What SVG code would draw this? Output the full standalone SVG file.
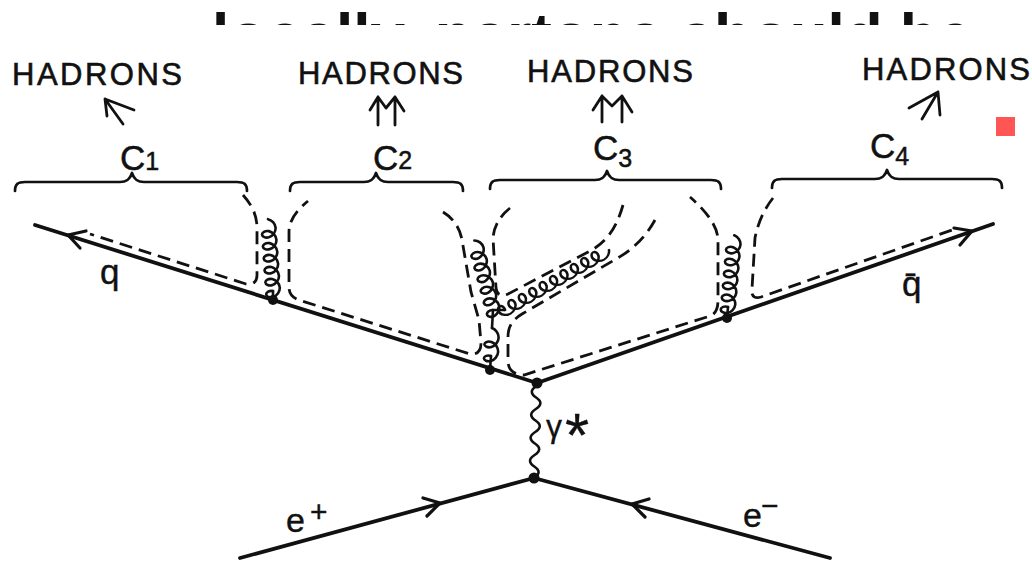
<svg xmlns="http://www.w3.org/2000/svg" xmlns:xlink="http://www.w3.org/1999/xlink" width="1032" height="563" viewBox="0 0 1032 563">
<style>
.ln{fill:none;stroke:#111;stroke-width:3.8;stroke-linecap:round;stroke-linejoin:round}
.ah{fill:none;stroke:#111;stroke-width:3.2;stroke-linecap:round;stroke-linejoin:round}
.dash{fill:none;stroke:#111;stroke-width:2.8;stroke-dasharray:13 7}
.gl{fill:none;stroke:#111;stroke-width:2.6;stroke-linecap:round}
.br{fill:none;stroke:#111;stroke-width:2.7;stroke-linecap:round;stroke-linejoin:round}
.ha{fill:none;stroke:#111;stroke-width:2.8;stroke-linecap:round;stroke-linejoin:round}
.dot{fill:#111}
.t{font-family:"Liberation Sans",Arial,sans-serif;fill:#111}
.had{font-size:31px;stroke:#111;stroke-width:0.6}
.cl{font-size:35px;stroke:#111;stroke-width:0.5}
.sub{font-size:25px}
</style>
<defs>
<clipPath id="clipTop"><rect x="0" y="0" width="1032" height="25"/></clipPath>
<path id="g12x6" d="M0,0 c1,-3.67 -0.86,-7 -3,-7 c-2.14,0 -4,3.33 -3,7 c1,3.67 4.86,7 9,7 c4.14,0 8,-3.33 9,-7 c1,-3.67 -0.86,-7 -3,-7 c-2.14,0 -4,3.33 -3,7 c1,3.67 4.86,7 9,7 c4.14,0 8,-3.33 9,-7 c1,-3.67 -0.86,-7 -3,-7 c-2.14,0 -4,3.33 -3,7 c1,3.67 4.86,7 9,7 c4.14,0 8,-3.33 9,-7 c1,-3.67 -0.86,-7 -3,-7 c-2.14,0 -4,3.33 -3,7 c1,3.67 4.86,7 9,7 c4.14,0 8,-3.33 9,-7 c1,-3.67 -0.86,-7 -3,-7 c-2.14,0 -4,3.33 -3,7 c1,3.67 4.86,7 9,7 c4.14,0 8,-3.33 9,-7 c1,-3.67 -0.86,-7 -3,-7 c-2.14,0 -4,3.33 -3,7 c1,3.67 4.86,7 9,7 c4.14,0 8,-3.33 9,-7"/>
<path id="g12x10" d="M0,0 c1,-3.67 -0.86,-7 -3,-7 c-2.14,0 -4,3.33 -3,7 c1,3.67 4.86,7 9,7 c4.14,0 8,-3.33 9,-7 c1,-3.67 -0.86,-7 -3,-7 c-2.14,0 -4,3.33 -3,7 c1,3.67 4.86,7 9,7 c4.14,0 8,-3.33 9,-7 c1,-3.67 -0.86,-7 -3,-7 c-2.14,0 -4,3.33 -3,7 c1,3.67 4.86,7 9,7 c4.14,0 8,-3.33 9,-7 c1,-3.67 -0.86,-7 -3,-7 c-2.14,0 -4,3.33 -3,7 c1,3.67 4.86,7 9,7 c4.14,0 8,-3.33 9,-7 c1,-3.67 -0.86,-7 -3,-7 c-2.14,0 -4,3.33 -3,7 c1,3.67 4.86,7 9,7 c4.14,0 8,-3.33 9,-7 c1,-3.67 -0.86,-7 -3,-7 c-2.14,0 -4,3.33 -3,7 c1,3.67 4.86,7 9,7 c4.14,0 8,-3.33 9,-7 c1,-3.67 -0.86,-7 -3,-7 c-2.14,0 -4,3.33 -3,7 c1,3.67 4.86,7 9,7 c4.14,0 8,-3.33 9,-7 c1,-3.67 -0.86,-7 -3,-7 c-2.14,0 -4,3.33 -3,7 c1,3.67 4.86,7 9,7 c4.14,0 8,-3.33 9,-7 c1,-3.67 -0.86,-7 -3,-7 c-2.14,0 -4,3.33 -3,7 c1,3.67 4.86,7 9,7 c4.14,0 8,-3.33 9,-7 c1,-3.67 -0.86,-7 -3,-7 c-2.14,0 -4,3.33 -3,7 c1,3.67 4.86,7 9,7 c4.14,0 8,-3.33 9,-7"/>
<path id="g14x2" d="M0,0 c1.17,-3.67 -0.53,-7 -2.5,-7 c-1.97,0 -3.67,3.33 -2.5,7 c1.17,3.67 5.19,7 9.5,7 c4.31,0 8.33,-3.33 9.5,-7 c1.17,-3.67 -0.53,-7 -2.5,-7 c-1.97,0 -3.67,3.33 -2.5,7 c1.17,3.67 5.19,7 9.5,7 c4.31,0 8.33,-3.33 9.5,-7"/>
</defs>
<rect width="1032" height="563" fill="#fff"/>

<g id="heading" clip-path="url(#clipTop)">
<text class="t" x="212" y="56" font-size="62" font-weight="bold">locally, partons should be</text>
</g>

<g id="cluster-C1">
<text class="t had" x="12" y="85" textLength="170" lengthAdjust="spacing">HADRONS</text>
<path class="ha" d="M105,99 L134,110 M105,99 L107,116 M105,99 L123,124"/>
<text class="t cl" x="120" y="170">C<tspan class="sub" dy="0">1</tspan></text>
<path class="br" d="M15,191 C15,184 18,182 25,182 L120,182 C127,182 130,179 132,173 C134,179 137,182 144,182 L237,182 C244,182 247,184 247,191"/>
</g>

<g id="cluster-C2">
<text class="t had" x="298" y="84" textLength="165" lengthAdjust="spacing">HADRONS</text>
<path class="ha" d="M370,110 L378,97 L386,108 L395,97 L404,111 M378,97 L378,125 M395,97 L395,125"/>
<text class="t cl" x="373" y="170">C<tspan class="sub" dy="-1">2</tspan></text>
<path class="br" d="M290,191 C290,184 293,182 300,182 L364,182 C371,182 374,179 376,173 C378,179 381,182 388,182 L453,182 C460,182 463,184 463,191"/>
</g>

<g id="cluster-C3">
<text class="t had" x="527" y="82" textLength="166" lengthAdjust="spacing">HADRONS</text>
<path class="ha" d="M593,110 L602,96 L612,106 L622,96 L632,112 M602,96 L602,122 M622,96 L622,122"/>
<text class="t cl" x="593" y="160">C<tspan class="sub" dy="7">3</tspan></text>
<path class="br" d="M490,189 C490,182 493,180 500,180 L595,180 C602,180 605,177 607,171 C609,177 612,180 619,180 L711,180 C718,180 721,182 721,189"/>
</g>

<g id="cluster-C4">
<text class="t had" x="862" y="80" textLength="168" lengthAdjust="spacing">HADRONS</text>
<path class="ha" d="M938,92 L909,108 M938,92 L940,115 M938,92 L922,119"/>
<text class="t cl" x="870" y="158">C<tspan class="sub" dy="7">4</tspan></text>
<path class="br" d="M772,188 C772,181 775,179 782,179 L875,179 C882,179 885,176 887,170 C889,176 892,179 899,179 L992,179 C999,179 1002,181 1002,188"/>
</g>

<g id="connectors">
<path class="ln" d="M537,383 L35,225"/>
<path class="ln" d="M537,383 L993,224"/>
<path class="ln" d="M240,558 L534,478"/>
<path class="ln" d="M534,478 L830,558"/>
<polyline class="ah" points="86,231 68,235 80,248"/>
<polyline class="ah" points="954,228 972,231 960,245"/>
<polyline class="ah" points="423,498 440,503 427,516"/>
<polyline class="ah" points="649,499 632,504 645,517"/>
<path class="gl" stroke-width="3" d="M534,478 q9,-5.75 0.3,-11.5 t0.3,-11.5 t0.3,-11.5 t0.3,-11.5 t0.3,-11.5 t0.3,-11.5 t0.3,-11.5 t0.3,-11.5"/>
<path class="gl" stroke-width="3" d="M273,300 L273,291 M490,370 L491,356 M492,328 L493,310 L505,310 M727,318 L728,307"/>
<use xlink:href="#g12x6" class="gl" transform="translate(273,291) rotate(-94)"/>
<use xlink:href="#g14x2" class="gl" transform="translate(491,356) rotate(-88)"/>
<use xlink:href="#g12x6" class="gl" transform="translate(493,310) rotate(-105)"/>
<use xlink:href="#g12x10" class="gl" transform="translate(505,310) rotate(-30) scale(1,0.85)"/>
<use xlink:href="#g12x6" class="gl" transform="translate(728,307) rotate(-85)"/>
<path class="dash" d="M243,195 C251,204 257,214 257,228 L257,275 C257,282 253,285 246,284 L90,234"/>
<path class="dash" d="M443,212 C453,218 460,228 462,240 L471,292 L479,320 L481,343 C481,351 477,355 470,354 L302,301 C294,299 289,295 289,287 L289,232 C289,220 297,210 308,201"/>
<path class="dash" d="M510,208 C500,216 494,226 493,238 L496,288 C497,295 501,297 508,294 L590,251 C605,243 616,230 623,205"/>
<path class="dash" d="M655,220 C645,238 632,250 616,259 L522,314 C512,320 508,327 508,337 L508,361 C508,370 514,375 524,375 L710,316 C716,314 718,308 718,300 L718,240 C718,226 705,210 690,197"/>
<path class="dash" d="M773,198 C765,208 758,222 755,238 L752,289 C751,296 754,299 761,297 L955,229"/>
</g>

<g id="vertices">
<circle class="dot" cx="273" cy="300" r="5"/>
<circle class="dot" cx="490" cy="370" r="5"/>
<circle class="dot" cx="537" cy="383" r="5.5"/>
<circle class="dot" cx="727" cy="318" r="5"/>
<circle class="dot" cx="534" cy="478" r="5.5"/>
</g>

<g id="labels">
<text class="t" x="100" y="284" font-size="35" stroke="#111" stroke-width="0.4">q</text>
<text class="t" x="902" y="296" font-size="35" stroke="#111" stroke-width="0.4">q̄</text>
<text class="t" x="286" y="532" font-size="34" stroke="#111" stroke-width="0.4">e<tspan x="310" font-size="30" dy="-10">+</tspan></text>
<text class="t" x="743" y="527" font-size="34" stroke="#111" stroke-width="0.4">e<tspan x="761" font-size="30" dy="-11">−</tspan></text>
<text class="t" x="546" y="437" font-size="32" stroke="#111" stroke-width="0.3">γ<tspan x="565" dy="19" font-size="62">*</tspan></text>
</g>

<rect id="marker" x="996" y="117" width="19" height="19" fill="#ff5555"/>
</svg>
